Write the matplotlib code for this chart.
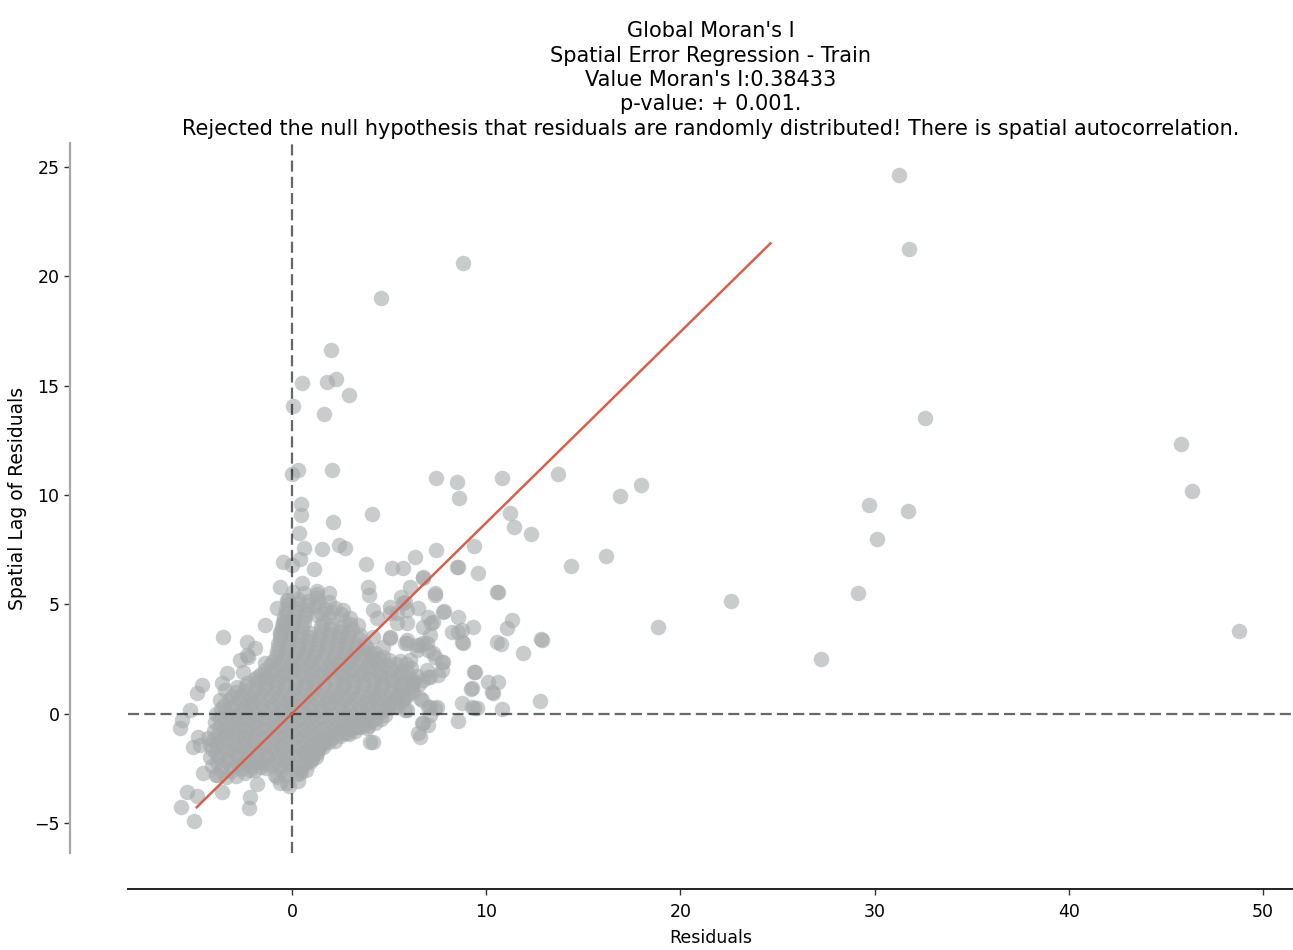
import numpy as np
import matplotlib
matplotlib.use('Agg')
import matplotlib.pyplot as plt

# Moran scatterplot of the spatial error regression residuals (train set)
moran_i = 0.38433
p_value = 0.001
fit_slope = 0.873  # slope of the red fit line

# dense core of the cloud (residual, spatial lag), read row by row
core_pts = [
    (-0.6, -3.2), (-0.15, -3.3), (0.3, -3.1),
    (-3.9, -2.8), (-3.4, -2.9), (-2.9, -2.85), (-2.4, -2.7), (-1.9, -2.6), (-1.35, -2.5),
    (-0.8, -2.9), (-0.3, -2.8), (0.25, -2.75), (0.7, -2.6),
    (-4.1, -2.4), (-3.6, -2.35), (-3.1, -2.45), (-2.6, -2.3), (-2.1, -2.4), (-1.6, -2.2),
    (-1.1, -2.35), (-0.6, -2.4), (-0.1, -2.3), (0.4, -2.45), (0.9, -2.2), (1.25, -2.0),
    (-4.25, -2.0), (-3.75, -1.95), (-3.25, -2.05), (-2.75, -1.9), (-2.25, -2.0), (-1.75, -1.85),
    (-1.25, -2.0), (-0.75, -1.95), (-0.25, -2.05), (0.25, -1.9), (0.75, -1.95), (1.3, -1.7),
    (-4.1, -1.6), (-3.6, -1.55), (-3.1, -1.65), (-2.6, -1.5), (-2.1, -1.6), (-1.6, -1.55),
    (-1.1, -1.6), (-0.6, -1.5), (-0.1, -1.65), (0.4, -1.55), (0.9, -1.6), (1.4, -1.45), (1.9, -1.3),
    (-4.05, -1.2), (-3.55, -1.15), (-3.05, -1.25), (-2.55, -1.1), (-2.05, -1.2), (-1.55, -1.15),
    (-1.05, -1.25), (-0.55, -1.1), (-0.05, -1.2), (0.45, -1.15), (0.95, -1.2), (1.45, -1.1),
    (1.95, -1.15), (2.45, -1.05), (2.95, -0.95),
    (-4.0, -0.8), (-3.5, -0.75), (-3.0, -0.85), (-2.5, -0.7), (-2.0, -0.8), (-1.5, -0.75),
    (-1.0, -0.85), (-0.5, -0.7), (0.0, -0.8), (0.5, -0.75), (1.0, -0.8), (1.5, -0.7),
    (2.0, -0.8), (2.5, -0.75), (3.0, -0.7), (3.5, -0.6), (3.9, -0.55),
    (-3.95, -0.4), (-3.45, -0.35), (-2.95, -0.45), (-2.45, -0.3), (-1.95, -0.4), (-1.45, -0.35),
    (-0.95, -0.45), (-0.45, -0.3), (0.05, -0.4), (0.55, -0.35), (1.05, -0.45), (1.55, -0.3),
    (2.05, -0.4), (2.55, -0.35), (3.05, -0.4), (3.55, -0.3), (4.05, -0.35), (4.6, -0.25),
    (-3.9, 0.0), (-3.4, 0.05), (-2.9, -0.05), (-2.4, 0.1), (-1.9, 0.0), (-1.4, 0.05),
    (-0.9, -0.05), (-0.4, 0.1), (0.1, 0.0), (0.6, 0.05), (1.1, -0.05), (1.6, 0.1),
    (2.1, 0.0), (2.6, 0.05), (3.1, -0.05), (3.6, 0.1), (4.1, 0.0), (4.6, 0.05), (5.0, 0.25),
    (-3.5, 0.4), (-3.0, 0.45), (-2.5, 0.35), (-2.0, 0.5), (-1.5, 0.4), (-1.0, 0.45),
    (-0.5, 0.35), (0.0, 0.5), (0.5, 0.4), (1.0, 0.45), (1.5, 0.35), (2.0, 0.5),
    (2.5, 0.4), (3.0, 0.45), (3.5, 0.35), (4.0, 0.5), (4.5, 0.4), (5.0, 0.45), (5.45, 0.55),
    (-3.1, 0.8), (-2.6, 0.85), (-2.1, 0.75), (-1.6, 0.9), (-1.1, 0.8), (-0.6, 0.85),
    (-0.1, 0.75), (0.4, 0.9), (0.9, 0.8), (1.4, 0.85), (1.9, 0.75), (2.4, 0.9),
    (2.9, 0.8), (3.4, 0.85), (3.9, 0.75), (4.4, 0.9), (4.9, 0.8), (5.4, 0.85), (5.95, 0.9),
    (-2.85, 1.2), (-2.35, 1.25), (-1.85, 1.15), (-1.35, 1.3), (-0.85, 1.2), (-0.35, 1.25),
    (0.15, 1.15), (0.65, 1.3), (1.15, 1.2), (1.65, 1.25), (2.15, 1.15), (2.65, 1.3),
    (3.15, 1.2), (3.65, 1.25), (4.15, 1.15), (4.65, 1.3), (5.15, 1.2), (5.65, 1.25),
    (6.2, 1.3), (6.55, 1.35),
    (-1.9, 1.6), (-1.4, 1.65), (-0.9, 1.55), (-0.4, 1.7), (0.1, 1.6), (0.6, 1.65),
    (1.1, 1.55), (1.6, 1.7), (2.1, 1.6), (2.6, 1.65), (3.1, 1.55), (3.6, 1.7),
    (4.1, 1.6), (4.6, 1.65), (5.1, 1.55), (5.6, 1.7), (6.1, 1.6), (6.45, 1.7),
    (-1.4, 2.0), (-0.9, 2.05), (-0.4, 1.95), (0.1, 2.1), (0.6, 2.0), (1.1, 2.05),
    (1.6, 1.95), (2.1, 2.1), (2.6, 2.0), (3.1, 2.05), (3.6, 1.95), (4.1, 2.1),
    (4.6, 2.0), (5.1, 2.05), (5.6, 1.95), (6.15, 2.1),
    (-1.0, 2.4), (-0.5, 2.45), (0.0, 2.35), (0.5, 2.5), (1.0, 2.4), (1.5, 2.45),
    (2.0, 2.35), (2.5, 2.5), (3.0, 2.4), (3.5, 2.45), (4.0, 2.35), (4.5, 2.5),
    (5.0, 2.45), (5.55, 2.4), (6.05, 2.45),
    (-0.8, 2.8), (-0.3, 2.85), (0.2, 2.75), (0.7, 2.9), (1.2, 2.8), (1.7, 2.85),
    (2.2, 2.75), (2.7, 2.9), (3.2, 2.8), (3.7, 2.85), (4.25, 2.75),
    (-0.7, 3.2), (-0.2, 3.25), (0.3, 3.15), (0.8, 3.3), (1.3, 3.2), (1.8, 3.25),
    (2.3, 3.15), (2.8, 3.3), (3.3, 3.2), (3.75, 3.15),
    (-0.6, 3.6), (-0.1, 3.65), (0.4, 3.55), (0.9, 3.7), (1.4, 3.6), (1.9, 3.65),
    (2.4, 3.55), (2.9, 3.7), (3.5, 3.6),
    (-0.5, 4.0), (0.0, 4.05), (0.5, 3.95), (1.5, 4.0), (2.0, 4.05),
    (2.5, 3.95), (3.0, 4.1), (3.4, 4.05),
    (-0.4, 4.4), (0.1, 4.45), (0.6, 4.35), (1.3, 4.5), (1.9, 4.4), (3.0, 4.35),
    (-0.3, 4.8), (0.2, 4.85), (0.7, 4.75), (1.2, 4.9), (1.7, 4.8), (2.2, 4.85), (2.6, 4.75),
    (-0.2, 5.2), (0.3, 5.25), (0.8, 5.15), (1.3, 5.3), (1.9, 5.1),
    (0.05, 5.55), (0.6, 5.5), (1.3, 5.45),
]

# second, staggered layer inside the core where the points pile up
core_fill_pts = [
    (-3.65, -2.6), (-3.15, -2.65), (-2.65, -2.55), (-2.15, -2.6), (-1.6, -2.45),
    (-0.55, -2.6), (-0.05, -2.55), (0.45, -2.6),
    (-3.85, -2.2), (-3.35, -2.15), (-2.85, -2.25), (-2.35, -2.15), (-1.85, -2.2), (-1.35, -2.25),
    (-0.85, -2.15), (-0.35, -2.2), (0.15, -2.15), (0.65, -2.25), (1.05, -2.1),
    (-3.9, -1.8), (-3.4, -1.75), (-2.9, -1.85), (-2.4, -1.75), (-1.9, -1.8), (-1.4, -1.85),
    (-0.9, -1.75), (-0.4, -1.8), (0.1, -1.85), (0.6, -1.75), (1.1, -1.8), (1.6, -1.55),
    (-3.85, -1.4), (-3.35, -1.35), (-2.85, -1.45), (-2.35, -1.35), (-1.85, -1.4), (-1.35, -1.45),
    (-0.85, -1.35), (-0.35, -1.4), (0.15, -1.45), (0.65, -1.35), (1.15, -1.4), (1.65, -1.35),
    (2.2, -1.25),
    (-3.8, -1.0), (-3.3, -0.95), (-2.8, -1.05), (-2.3, -0.95), (-1.8, -1.0), (-1.3, -1.05),
    (-0.8, -0.95), (-0.3, -1.0), (0.2, -1.05), (0.7, -0.95), (1.2, -1.0), (1.7, -0.95),
    (2.2, -1.0), (2.7, -0.9), (3.25, -0.8),
    (-3.75, -0.6), (-3.25, -0.55), (-2.75, -0.65), (-2.25, -0.55), (-1.75, -0.6), (-1.25, -0.65),
    (-0.75, -0.55), (-0.25, -0.6), (0.25, -0.65), (0.75, -0.55), (1.25, -0.6), (1.75, -0.55),
    (2.25, -0.6), (2.75, -0.55), (3.25, -0.6), (3.75, -0.5), (4.25, -0.45),
    (-3.7, -0.2), (-3.2, -0.15), (-2.7, -0.25), (-2.2, -0.15), (-1.7, -0.2), (-1.2, -0.25),
    (-0.7, -0.15), (-0.2, -0.2), (0.3, -0.25), (0.8, -0.15), (1.3, -0.2), (1.8, -0.15),
    (2.3, -0.25), (2.8, -0.15), (3.3, -0.2), (3.8, -0.15), (4.3, -0.2), (4.8, -0.05),
    (-3.65, 0.2), (-3.15, 0.25), (-2.65, 0.15), (-2.15, 0.3), (-1.65, 0.2), (-1.15, 0.25),
    (-0.65, 0.15), (-0.15, 0.3), (0.35, 0.2), (0.85, 0.25), (1.35, 0.15), (1.85, 0.3),
    (2.35, 0.2), (2.85, 0.25), (3.35, 0.15), (3.85, 0.3), (4.35, 0.2), (4.85, 0.25), (5.25, 0.35),
    (-3.25, 0.6), (-2.75, 0.65), (-2.25, 0.55), (-1.75, 0.7), (-1.25, 0.6), (-0.75, 0.65),
    (-0.25, 0.55), (0.25, 0.7), (0.75, 0.6), (1.25, 0.65), (1.75, 0.55), (2.25, 0.7),
    (2.75, 0.6), (3.25, 0.65), (3.75, 0.55), (4.25, 0.7), (4.75, 0.6), (5.25, 0.65), (5.7, 0.7),
    (-2.9, 1.0), (-2.4, 1.05), (-1.9, 0.95), (-1.4, 1.1), (-0.9, 1.0), (-0.4, 1.05),
    (0.1, 0.95), (0.6, 1.1), (1.1, 1.0), (1.6, 1.05), (2.1, 0.95), (2.6, 1.1),
    (3.1, 1.0), (3.6, 1.05), (4.1, 0.95), (4.6, 1.1), (5.1, 1.0), (5.6, 1.05), (6.1, 1.1),
    (-2.3, 1.4), (-1.8, 1.45), (-1.3, 1.35), (-0.8, 1.5), (-0.3, 1.4), (0.2, 1.45),
    (0.7, 1.35), (1.2, 1.5), (1.7, 1.4), (2.2, 1.45), (2.7, 1.35), (3.2, 1.5),
    (3.7, 1.4), (4.2, 1.45), (4.7, 1.35), (5.2, 1.5), (5.7, 1.4), (6.25, 1.45),
    (-1.6, 1.8), (-1.1, 1.85), (-0.6, 1.75), (-0.1, 1.9), (0.4, 1.8), (0.9, 1.85),
    (1.4, 1.75), (1.9, 1.9), (2.4, 1.8), (2.9, 1.85), (3.4, 1.75), (3.9, 1.9),
    (4.4, 1.8), (4.9, 1.85), (5.4, 1.75), (5.9, 1.9),
    (-1.15, 2.2), (-0.65, 2.25), (-0.15, 2.15), (0.35, 2.3), (0.85, 2.2), (1.35, 2.25),
    (1.85, 2.15), (2.35, 2.3), (2.85, 2.2), (3.35, 2.25), (3.85, 2.15), (4.35, 2.3),
    (4.85, 2.2), (5.35, 2.25), (5.85, 2.25),
    (-0.85, 2.6), (-0.35, 2.65), (0.15, 2.55), (0.65, 2.7), (1.15, 2.6), (1.65, 2.65),
    (2.15, 2.55), (2.65, 2.7), (3.15, 2.6), (3.65, 2.65), (4.15, 2.55), (4.7, 2.6),
    (-0.7, 3.0), (-0.2, 3.05), (0.3, 2.95), (0.8, 3.1), (1.3, 3.0), (1.8, 3.05),
    (2.3, 2.95), (2.8, 3.1), (3.3, 3.0), (3.9, 2.95),
    (-0.6, 3.4), (-0.1, 3.45), (0.4, 3.35), (0.9, 3.5), (1.4, 3.4), (1.9, 3.45),
    (2.4, 3.35), (2.9, 3.5), (3.45, 3.4),
    (-0.5, 3.8), (0.0, 3.85), (0.5, 3.75), (1.5, 3.8), (2.0, 3.85), (2.5, 3.75), (3.1, 3.85),
    (-0.4, 4.2), (0.1, 4.25), (0.6, 4.15), (1.6, 4.2), (2.7, 4.25),
    (-0.3, 4.6), (0.2, 4.65), (0.7, 4.55), (1.5, 4.6), (2.0, 4.65), (2.5, 4.55),
    (-0.2, 5.0), (0.3, 5.05), (0.8, 4.95), (1.4, 5.1),
]

# scattered points around the core and the far outliers
outer_pts = [
    (31.26, 24.64), (31.77, 21.26), (32.6, 13.52), (45.78, 12.33), (46.34, 10.18),
    (48.76, 3.78), (29.71, 9.54), (30.12, 7.99), (31.72, 9.27), (29.15, 5.51),
    (27.24, 2.49), (22.6, 5.15), (18.85, 3.96), (17.97, 10.46), (16.89, 9.95),
    (16.17, 7.21), (14.37, 6.75), (13.7, 10.96), (12.31, 8.21), (11.23, 9.18),
    (11.43, 8.54), (10.81, 10.78), (12.82, 3.41), (11.9, 2.77), (12.77, 0.57),
    (8.81, 20.62), (4.58, 19.01), (2.0, 16.63), (1.8, 15.17), (2.27, 15.31),
    (2.94, 14.58), (0.51, 15.13), (0.05, 14.07), (1.65, 13.71), (0.31, 11.14),
    (2.06, 11.14), (0.0, 10.96), (0.46, 9.59), (0.46, 9.08), (0.36, 8.26),
    (2.11, 8.76), (4.12, 9.13), (2.42, 7.71), (2.73, 7.57), (1.54, 7.53),
    (0.63, 7.56), (0.41, 7.07), (-0.46, 6.93), (7.42, 10.78), (8.5, 10.6), (8.62, 9.85),
    (-0.02, 6.8), (1.13, 6.6), (3.81, 6.83), (5.13, 6.67), (5.73, 6.67),
    (6.33, 7.18), (7.42, 7.48), (9.39, 7.67), (8.53, 6.69), (9.56, 6.42),
    (10.59, 5.55), (-0.62, 5.8), (0.5, 5.96), (1.27, 5.61), (1.91, 5.5),
    (3.93, 5.8), (3.98, 5.42), (6.76, 6.19), (6.08, 5.78), (5.6, 5.35),
    (5.82, 5.12), (7.36, 5.42), (7.83, 4.69), (8.56, 4.43), (9.34, 3.97),
    (11.31, 4.28), (11.06, 3.9), (10.76, 3.18), (12.86, 3.36), (10.54, 3.29),
    (8.53, 3.74), (8.79, 3.24), (8.22, 3.74), (7.14, 4.13), (7.28, 4.2),
    (7.11, 3.59), (6.5, 4.81), (7.02, 4.43), (5.9, 3.21), (6.59, 3.13),
    (6.94, 3.21), (7.28, 2.76), (7.79, 2.37), (7.53, 1.76), (7.02, 1.68),
    (6.59, 0.69), (7.02, 0.31), (7.45, 0.31), (6.68, -0.45), (7.02, -0.53),
    (6.59, -1.06), (4.19, -1.29), (3.85, -0.68), (2.82, -0.91), (5.82, 0.69),
    (5.82, 0.16), (6.25, 1.38), (6.25, 1.0), (9.39, 1.89), (10.11, 1.46),
    (10.59, 1.46), (10.33, 0.92), (9.22, 1.12), (8.74, 0.49), (9.39, 0.24),
    (8.56, -0.33), (10.8, 0.19),
    (4.19, 4.74), (4.36, 4.36), (5.05, 4.89), (5.39, 4.59), (5.73, 5.04),
    (6.76, 3.97), (4.19, 3.51), (4.7, 3.06), (4.02, 2.76), (5.05, 3.51),
    (5.9, 3.36), (6.42, 2.91), (6.76, 3.21), (6.94, 1.99), (6.76, 1.53),
    (5.56, 1.23), (5.73, 0.62), (6.76, -0.45), (6.5, -0.91), (5.05, 0.47),
    (5.39, 0.31), (5.9, 0.16), (4.02, -1.29), (3.33, -0.6), (3.67, -0.45),
    (1.61, -1.21), (1.44, -1.52), (0.58, -1.82), (1.27, -1.82), (0.93, -2.13),
    (0.41, -2.74), (8.48, 6.72), (6.76, 6.26), (7.36, 5.5), (10.54, 5.57),
    (7.79, 4.66), (8.74, 3.82), (8.74, 3.29), (5.9, 4.74), (5.05, 4.59),
    (5.39, 4.13), (5.9, 4.13), (5.05, 3.44), (5.82, 3.21), (6.42, 3.13),
    (7.02, 2.91), (7.36, 2.6), (7.71, 2.37), (7.11, 1.68), (7.71, 1.99),
    (6.68, 0.62), (7.11, 0.31), (7.36, 0.24), (7.11, -0.07), (9.25, 0.31),
    (9.51, 0.24), (9.42, 1.91), (9.25, 1.15), (10.28, 1.0),
    (-3.54, 3.51), (-2.33, 3.29), (-1.91, 2.98), (-2.33, 2.68), (-1.39, 4.05),
    (-0.79, 4.81), (-0.27, 5.19), (-0.62, 3.74), (-0.45, 4.2), (-2.68, 2.45),
    (-1.39, 2.3), (-2.25, 2.6), (-3.36, 1.84), (-2.51, 1.91), (-3.62, 1.38),
    (-3.45, 1.08), (-3.71, 0.62), (-1.82, 1.68), (-1.3, 1.61), (-4.65, 1.3),
    (-4.91, 0.92), (-5.25, 0.16), (-5.68, -0.3), (-5.77, -0.68), (-4.82, -1.06),
    (-4.74, -1.44), (-5.08, -1.52), (-4.31, -1.14), (-4.22, -1.44), (-4.57, -2.74),
    (-3.88, -2.81), (-5.42, -3.61), (-4.91, -3.78), (-5.72, -4.27), (-5.05, -4.91),
    (-3.62, -3.58), (-1.79, -3.23), (-2.16, -3.81), (-2.2, -4.34), (-0.88, -2.81),
    (-0.27, -3.2),
]

title_lines = [
    "Global Moran's I",
    "Spatial Error Regression - Train",
    "Value Moran's I:" + str(moran_i),
    "p-value: + " + str(p_value) + ".",
    "Rejected the null hypothesis that residuals are randomly distributed! There is spatial autocorrelation.",
]

pts = np.array(core_pts + core_fill_pts + outer_pts)
residuals = pts[:, 0]
spatial_lag = pts[:, 1]

dpi = 100
fig = plt.figure(figsize=(12.93, 9.5), dpi=dpi)
ax = fig.add_axes([128 / 1293, 97 / 950, 1165 / 1293, 710 / 950])

ax.scatter(residuals, spatial_lag, s=125, color='#a6aaab', alpha=0.6, linewidths=0, zorder=2)

# fit line (drawn over the range of the lag values, as in the original)
line_x = np.array([spatial_lag.min(), spatial_lag.max()])
ax.plot(line_x, fit_slope * line_x, color='#d6604d', lw=1.8, zorder=4)

ax.axvline(0, color='k', alpha=0.6, lw=1.6, linestyle=(0, (5, 2.3)), zorder=3)
ax.axhline(0, color='k', alpha=0.6, lw=1.6, linestyle=(0, (5, 2.3)), zorder=3)

ax.set_xlim(-8.45, 51.55)
ax.set_ylim(-6.38, 26.1)
ax.set_xticks([0, 10, 20, 30, 40, 50])
ax.set_yticks([-5, 0, 5, 10, 15, 20, 25])

ax.spines['top'].set_visible(False)
ax.spines['right'].set_visible(False)
ax.spines['left'].set_position(('outward', 58 * 72 / dpi))
ax.spines['bottom'].set_position(('outward', 36 * 72 / dpi))
ax.spines['left'].set_color('#a8a8a8')
ax.spines['left'].set_linewidth(1.6)
ax.spines['bottom'].set_color('#222222')
ax.spines['bottom'].set_linewidth(1.4)
ax.tick_params(axis='both', labelsize=12.5, length=4, width=1, color='#333333')
ax.tick_params(axis='x', pad=6)

ax.set_xlabel('Residuals', fontsize=12.5, labelpad=6)
ax.set_ylabel('Spatial Lag of Residuals', fontsize=13.5, labelpad=5)
ax.set_title('\n'.join(title_lines), fontsize=15, pad=6, linespacing=1.27)

fig.savefig('out.png', dpi=dpi)
